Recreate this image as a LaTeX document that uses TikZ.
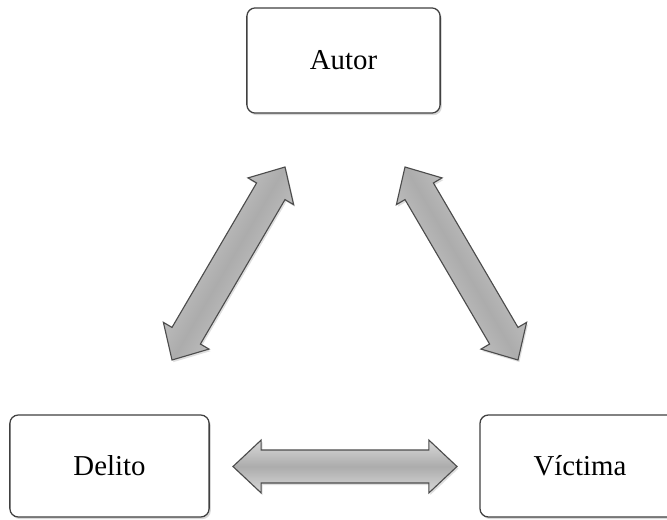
\documentclass[tikz,border=0pt]{standalone}
\usepackage{fontspec}
\setmainfont{Liberation Serif}
\usetikzlibrary{calc,shadows}

% block arrow with a head at both ends, from tip #1 to tip #2
\newcommand{\bothways}[2]{%
  \path[twoway] let \p1=($(#2)-(#1)$), \n1={atan2(\y1,\x1)}, \n2={veclen(\x1,\y1)}, \n3={\n2-20pt} in
    [shift={(#1)}, rotate=\n1, shading angle=\n1]
    (0pt,0pt) -- (20pt,18.8pt) -- (20pt,11.7pt) -- (\n3,11.7pt) -- (\n3,18.8pt)
    -- (\n2,0pt) -- (\n3,-18.8pt) -- (\n3,-11.7pt) -- (20pt,-11.7pt) -- (20pt,-18.8pt) -- cycle;
}

\begin{document}
\begin{tikzpicture}[x=0.025cm, y=-0.025cm,
  box/.style={draw=black!75, line width=0.9pt, rounded corners=6pt, fill=white,
    minimum width=#1, minimum height=2.55cm, font=\fontsize{20.5}{24}\selectfont,
    drop shadow={opacity=0.3, shadow xshift=1.2pt, shadow yshift=-1.5pt}},
  twoway/.style={draw=black!70, line width=0.8pt, top color=gray!30, bottom color=gray!30,
    middle color=gray!65,
    drop shadow={opacity=0.25, shadow xshift=1pt, shadow yshift=-1.5pt}}]

  \useasboundingbox (0,0) rectangle (667,520);

  % Boxes
  \node[box=4.83cm, minimum height=2.63cm] (autor) at (343.5,60.5) {Autor};
  \node[box=4.98cm] (delito) at (109.5,466) {Delito};
  \node[box=5cm] (victima) at (580,466) {Víctima};

  % Arrow tips
  \coordinate (ad1) at (285,167);
  \coordinate (ad2) at (172,360);
  \coordinate (av1) at (405,167);
  \coordinate (av2) at (518,360);
  \coordinate (dv1) at (233,466.5);
  \coordinate (dv2) at (457,466.5);

  % Arrows
  \bothways{ad2}{ad1}
  \bothways{av1}{av2}
  \bothways{dv1}{dv2}

\end{tikzpicture}
\end{document}
